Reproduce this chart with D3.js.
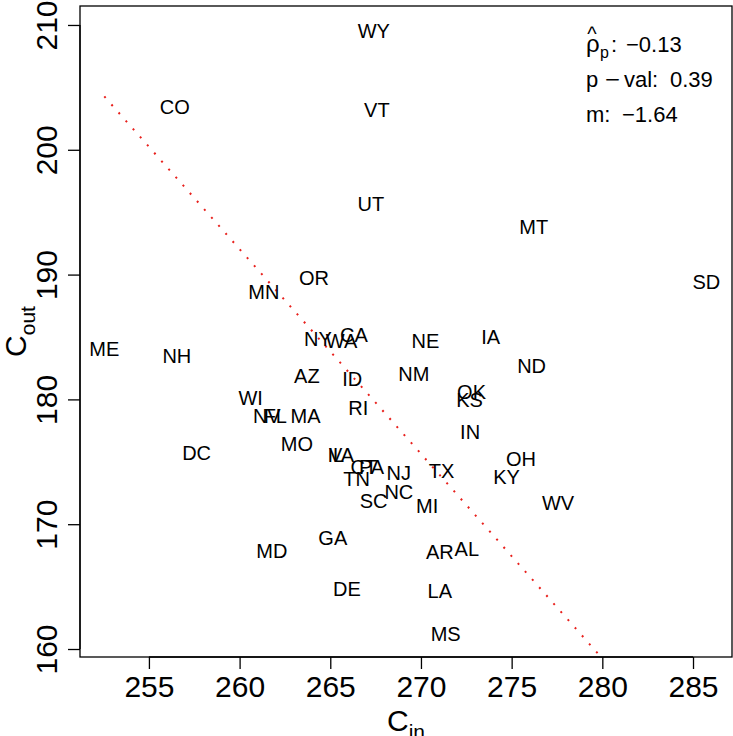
<!DOCTYPE html>
<html>
<head>
<meta charset="utf-8">
<script src="https://cdn.jsdelivr.net/npm/d3@7/dist/d3.min.js"></script>
<style>
  html, body { margin: 0; padding: 0; background: #fff; }
  svg { display: block; font-family: "Liberation Sans", Arial, Helvetica, sans-serif; }
  text { white-space: pre; }
</style>
</head>
<body>
<svg id="chart" width="733" height="736"></svg>
<script>
// ---- data ----
const states = ["WY","CO","VT","UT","MT","SD","OR","MN","ME","NH","NY","WA","CA","NE","IA","ND","AZ","ID","NM","OK","KS","WI","NV","FL","MA","RI","IN","MO","DC","IL","VA","CT","PA","TN","NJ","TX","OH","KY","SC","NC","MI","WV","GA","MD","AR","AL","DE","LA","MS"];
const cIn  = [267.40,256.43,267.57,267.24,276.22,285.74,264.10,261.34,252.54,256.54,264.32,265.62,266.30,270.25,273.84,276.10,263.71,266.21,269.61,272.79,272.68,260.61,261.50,261.97,263.64,266.54,272.71,263.16,257.63,265.31,265.62,266.85,267.28,266.45,268.78,271.14,275.52,274.72,267.39,268.78,270.34,277.56,265.14,261.78,271.04,272.53,265.92,271.04,271.36];
const cOut = [209.52,203.41,203.19,195.66,193.81,189.43,189.73,188.61,184.06,183.50,184.84,184.70,185.16,184.72,185.02,182.70,181.90,181.63,182.04,180.57,179.95,180.14,178.69,178.69,178.69,179.35,177.41,176.43,175.76,175.54,175.54,174.61,174.58,173.62,174.10,174.29,175.22,173.76,171.88,172.60,171.48,171.75,168.89,167.85,167.77,168.01,164.81,164.65,161.20];
const xTicks = [255, 260, 265, 270, 275, 280, 285];
const yTicks = [160, 170, 180, 190, 200, 210];
const fitIntercept = 618.44;
const fitSlope = -1.64;
const rhoText = "−0.13";
const pValText = "0.39";
const slopeText = "−1.64";

// ---- layout ----
const svg = d3.select("#chart");
const plot = {left: 80, right: 732, top: 6, bottom: 657};
const x = d3.scaleLinear().domain([251.2, 287.15]).range([plot.left, plot.right]);
const y = d3.scaleLinear().domain([159.36, 211.52]).range([plot.bottom, plot.top]);

svg.append("defs").append("clipPath").attr("id", "clip")
  .append("rect").attr("x", plot.left).attr("y", plot.top)
  .attr("width", plot.right - plot.left).attr("height", plot.bottom - plot.top);

// regression line
const xr = d3.extent(cIn);
svg.append("line")
  .attr("clip-path", "url(#clip)")
  .attr("x1", x(xr[0])).attr("y1", y(fitIntercept + fitSlope * xr[0]))
  .attr("x2", x(xr[1])).attr("y2", y(fitIntercept + fitSlope * xr[1]))
  .attr("stroke", "#e8201c").attr("stroke-width", 2)
  .attr("stroke-dasharray", "2,8.75");

// labels
svg.append("g").selectAll("text").data(states).join("text")
  .attr("x", (d, i) => x(cIn[i]))
  .attr("y", (d, i) => y(cOut[i]))
  .attr("dy", "0.36em")
  .attr("text-anchor", "middle")
  .attr("font-size", 20)
  .attr("fill", "#000")
  .text(d => d);

// box
svg.append("rect")
  .attr("x", plot.left).attr("y", plot.top)
  .attr("width", plot.right - plot.left).attr("height", plot.bottom - plot.top)
  .attr("fill", "none").attr("stroke", "#000").attr("stroke-width", 1.3);

// x axis
const xAxis = d3.axisBottom(x).tickValues(xTicks).tickSize(12).tickPadding(6).tickSizeOuter(0);
const gx = svg.append("g").attr("transform", `translate(0,${plot.bottom})`).call(xAxis);
gx.select(".domain").attr("d", `M${x(xTicks[0])},0H${x(xTicks[xTicks.length-1])}`).attr("stroke-width", 1.3);
gx.selectAll(".tick line").attr("stroke-width", 1.3);
gx.selectAll(".tick text").attr("font-size", 30).attr("font-family", null).attr("fill", "#000")
  .attr("dy", null).attr("y", 40);

// y axis
const yAxis = d3.axisLeft(y).tickValues(yTicks).tickSize(12).tickSizeOuter(0);
const gy = svg.append("g").attr("transform", `translate(${plot.left},0)`).call(yAxis);
gy.select(".domain").attr("d", `M0,${y(yTicks[0])}V${y(yTicks[yTicks.length-1])}`).attr("stroke-width", 1.3);
gy.selectAll(".tick line").attr("stroke-width", 1.3);
gy.selectAll(".tick text")
  .attr("font-size", 30).attr("font-family", null).attr("fill", "#000")
  .attr("x", null).attr("dy", null)
  .attr("text-anchor", "middle")
  .attr("transform", "translate(-23,0) rotate(-90)");

// axis titles
const xt = svg.append("text").attr("x", (plot.left + plot.right) / 2).attr("y", 731)
  .attr("text-anchor", "middle").attr("font-size", 30);
xt.append("tspan").text("C");
xt.append("tspan").attr("font-size", 21).attr("dy", 8).text("in");

const yt = svg.append("text")
  .attr("transform", `translate(26,${(plot.top + plot.bottom) / 2}) rotate(-90)`)
  .attr("text-anchor", "middle").attr("font-size", 30);
yt.append("tspan").text("C");
yt.append("tspan").attr("font-size", 21).attr("dy", 9).text("out");

// stats (plotmath-like spacing)
const st = svg.append("g").attr("font-size", 22).attr("fill", "#000");
// line 1: rho-hat_p: -0.13
st.append("text").attr("x", 592).attr("y", 41).attr("text-anchor", "middle").attr("font-size", 20).text("^");
const l1 = st.append("text").attr("y", 52);
l1.append("tspan").attr("x", 586).attr("font-size", 24).text("ρ");
l1.append("tspan").attr("x", 600).attr("font-size", 16).attr("dy", 6).text("p");
l1.append("tspan").attr("x", 611).attr("dy", -6).text(":");
l1.append("tspan").attr("x", 626).text(rhoText);
// line 2: p - val: 0.39
const l2 = st.append("text").attr("y", 87);
l2.append("tspan").attr("x", 586).text("p");
l2.append("tspan").attr("x", 605).attr("textLength", 15).attr("lengthAdjust", "spacingAndGlyphs").text("−");
l2.append("tspan").attr("x", 624).text("val:");
l2.append("tspan").attr("x", 670).text(pValText);
// line 3: m:  -1.64
const l3 = st.append("text").attr("y", 122);
l3.append("tspan").attr("x", 586).text("m:");
l3.append("tspan").attr("x", 622).text(slopeText);
</script>
</body>
</html>
